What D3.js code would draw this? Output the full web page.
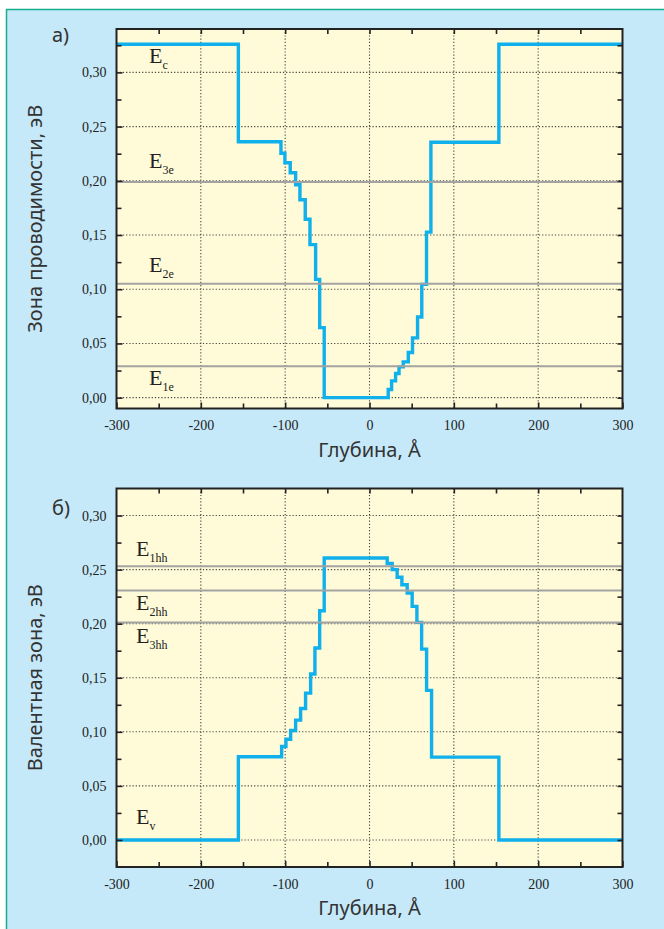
<!DOCTYPE html>
<head>
  <meta charset="utf-8">
  <script src="https://cdn.jsdelivr.net/npm/d3@7"></script>
</head>

<style>
  body { margin: 0; background: #fff; }
  svg { display: block; }
  .tick-lab { font-family: "Liberation Serif", serif; font-size: 14px; fill: #222; }
  .ax-title { font-family: "Noto Sans", sans-serif; font-size: 20px; fill: #333; }
  .lvl-lab { font-family: "Liberation Serif", serif; fill: #222; }
  .grid line { stroke: #444; stroke-width: 1.1; stroke-dasharray: 1.2,2; }
</style>

<body>
  <svg id='chart' width='664' height='929'></svg>
</body>

<script>

// depth (Å) where each step begins, and band energy (eV) on that step
var cbDepth = [-300, -155.5, -105, -100.3, -94, -87.6, -82.5, -76.2, -70.6, -63.9, -59.1, -53.7,
               22.2, 26.2, 30.9, 35, 40, 46, 51, 57, 62, 67.6, 72.8, 153.4, 300];
var cbEnergy = [0.326, 0.236, 0.2254, 0.2166, 0.2074, 0.1963, 0.1825, 0.1646, 0.1411, 0.1091, 0.0646, 0,
                0.0075, 0.0155, 0.0223, 0.0284, 0.033, 0.0416, 0.0551, 0.0744, 0.1045, 0.1527, 0.2355, 0.326, 0.326];

var vbDepth = [-300, -155.5, -104.2, -99.1, -93.5, -87.6, -81.7, -75.8, -69.8, -64.7, -59.1, -53.7,
               21, 26.9, 32.8, 38.4, 44.7, 50.6, 56.2, 61.8, 67.7, 73.6, 153.4, 300];
var vbEnergy = [0, 0.0769, 0.0864, 0.0932, 0.1012, 0.1108, 0.1216, 0.1358, 0.1534, 0.1775, 0.212, 0.2608,
                0.2556, 0.25, 0.2429, 0.236, 0.2284, 0.216, 0.2012, 0.1765, 0.1383, 0.0766, 0, 0];

// quantized levels
var cbLevelNames = ['c', '3e', '2e', '1e'];
var cbLevels = [0.326, 0.199, 0.105, 0.029];
var cbLevelLines = [false, true, true, true];

var vbLevelNames = ['1hh', '2hh', '3hh', 'v'];
var vbLevels = [0.253, 0.2306, 0.201, 0];
var vbLevelLines = [true, true, true, false];

var xTicks = [-300, -200, -100, 0, 100, 200, 300];
var yTicks = [0, 0.05, 0.10, 0.15, 0.20, 0.25, 0.30];

var svg = d3.select('#chart');

// backdrop
svg.append('rect').attr('x', 6).attr('y', 9).attr('width', 658).attr('height', 920).attr('fill', '#c6e9f9');
svg.append('line').attr('x1', 6.5).attr('x2', 6.5).attr('y1', 9).attr('y2', 929).attr('stroke', '#17b08f').attr('stroke-width', 1.5);
svg.append('line').attr('x1', 6).attr('x2', 664).attr('y1', 9.5).attr('y2', 9.5).attr('stroke', '#17b08f').attr('stroke-width', 1.5);

var panels = [
  {top: 29, bottom: 408.5, ydom: [-0.01, 0.34], depth: cbDepth, energy: cbEnergy,
   names: cbLevelNames, levels: cbLevels, lines: cbLevelLines, labDy: [19, -14, -12, 19], labX: 149,
   letter: 'а)', letterY: 42, ytitle: 'Зона проводимости, эВ'},
  {top: 488.5, bottom: 867, ydom: [-0.025, 0.325], depth: vbDepth, energy: vbEnergy,
   names: vbLevelNames, levels: vbLevels, lines: vbLevelLines, labDy: [-10, 19, 20, -16], labX: 136,
   letter: 'б)', letterY: 515, ytitle: 'Валентная зона, эВ'}
];

var left = 116.5, right = 622.5;

panels.forEach(function(p) {
  var x = d3.scaleLinear().domain([-300, 300]).range([left, right]);
  var y = d3.scaleLinear().domain(p.ydom).range([p.bottom, p.top]);
  var g = svg.append('g');

  g.append('rect').attr('x', left).attr('y', p.top)
    .attr('width', right - left).attr('height', p.bottom - p.top).attr('fill', '#fffad7');

  // dotted grid
  var grid = g.append('g').attr('class', 'grid');
  grid.selectAll('.gx').data(xTicks.slice(1, -1)).enter().append('line')
    .attr('x1', function(d) { return x(d); }).attr('x2', function(d) { return x(d); })
    .attr('y1', p.top).attr('y2', p.bottom);
  grid.selectAll('.gy').data(yTicks).enter().append('line')
    .attr('x1', left).attr('x2', right)
    .attr('y1', function(d) { return y(d); }).attr('y2', function(d) { return y(d); });

  // band profile
  var pts = p.depth.map(function(d, i) { return [d, p.energy[i]]; });
  var line = d3.line().x(function(d) { return x(d[0]); }).y(function(d) { return y(d[1]); })
    .curve(d3.curveStepAfter);
  g.append('path').datum(pts).attr('d', line)
    .attr('fill', 'none').attr('stroke', '#0fb0ec').attr('stroke-width', 3.4);

  // level lines
  g.selectAll('.lvl').data(p.levels.filter(function(_, i) { return p.lines[i]; })).enter().append('line')
    .attr('x1', left).attr('x2', right)
    .attr('y1', function(d) { return y(d); }).attr('y2', function(d) { return y(d); })
    .attr('stroke', '#a3a3a3').attr('stroke-width', 2);

  // axes with inward ticks
  var fmt = function(d) { return d3.format('.2f')(d).replace('.', ','); };
  g.append('g').attr('transform', 'translate(' + left + ',0)')
    .call(d3.axisLeft(y).tickValues(yTicks).tickSize(-6).tickPadding(10).tickFormat(fmt));
  g.append('g').attr('transform', 'translate(' + left + ',0)')
    .call(d3.axisLeft(y).tickValues(d3.range(0.025, p.ydom[1], 0.05)).tickSize(-5).tickFormat(''));
  g.append('g').attr('transform', 'translate(' + right + ',0)')
    .call(d3.axisRight(y).tickValues(d3.range(0, p.ydom[1], 0.025)).tickSize(-5).tickFormat(''));
  g.append('g').attr('transform', 'translate(0,' + p.bottom + ')')
    .call(d3.axisBottom(x).tickValues(xTicks).tickSize(-6).tickPadding(12).tickFormat(function(d) { return String(d); }));
  g.append('g').attr('transform', 'translate(0,' + p.bottom + ')')
    .call(d3.axisBottom(x).tickValues(d3.range(-250, 300, 100)).tickSize(-5).tickFormat(''));
  g.append('g').attr('transform', 'translate(0,' + p.top + ')')
    .call(d3.axisTop(x).tickValues(d3.range(-250, 300, 50)).tickSize(-5).tickFormat(''));

  g.selectAll('.domain').remove();
  g.selectAll('.tick line').attr('stroke', '#222').attr('stroke-width', 1.6);
  g.selectAll('.tick text').attr('class', 'tick-lab').attr('fill', null);

  // frame
  g.append('rect').attr('x', left).attr('y', p.top)
    .attr('width', right - left).attr('height', p.bottom - p.top)
    .attr('fill', 'none').attr('stroke', '#222').attr('stroke-width', 2);

  // level labels
  p.names.forEach(function(n, i) {
    var t = g.append('text').attr('class', 'lvl-lab')
      .attr('x', p.labX).attr('y', y(p.levels[i]) + p.labDy[i]);
    t.append('tspan').attr('font-size', 22).text('E');
    t.append('tspan').attr('font-size', 12).attr('dy', 6).text(n);
  });

  g.append('text').attr('class', 'ax-title').attr('text-anchor', 'middle')
    .attr('x', (left + right) / 2).attr('y', p.bottom + 48).text('Глубина, Å');
  g.append('text').attr('class', 'ax-title').attr('text-anchor', 'middle')
    .attr('transform', 'translate(42,' + (p.top + p.bottom) / 2 + ') rotate(-90)').text(p.ytitle);
  g.append('text').attr('class', 'ax-title').attr('x', 52).attr('y', p.letterY).text(p.letter);
});

</script>
